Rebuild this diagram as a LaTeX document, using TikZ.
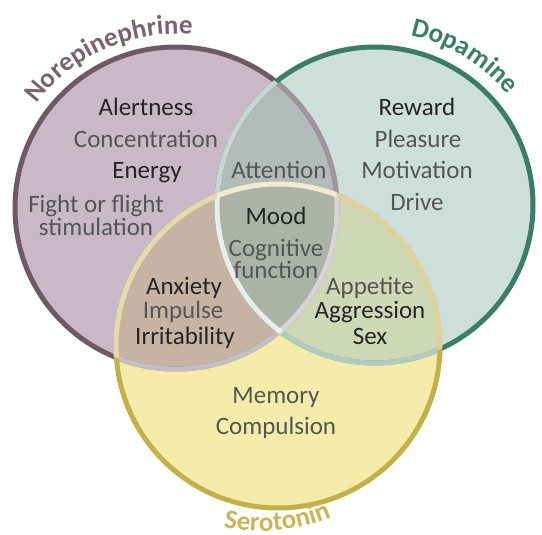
\documentclass[tikz,border=0pt]{standalone}
\usepackage{fontspec}
\setmainfont{Carlito}
\usetikzlibrary{decorations.text}
\definecolor{nefill}{HTML}{C9B8C6}
\definecolor{dafill}{HTML}{CCDFDB}
\definecolor{sefill}{HTML}{F4ECA8}
\definecolor{ndfill}{HTML}{B1BBBA}
\definecolor{nsfill}{HTML}{C7B3A4}
\definecolor{dsfill}{HTML}{CFD8B5}
\definecolor{ndsfill}{HTML}{AAB3A5}
\definecolor{nerim}{HTML}{6E5A67}
\definecolor{darim}{HTML}{3B7D65}
\definecolor{serim}{HTML}{C4B048}
\definecolor{netitle}{HTML}{7A6472}
\definecolor{datitle}{HTML}{3D7E68}
\definecolor{setitle}{HTML}{C9B559}
\definecolor{tdark}{HTML}{252525}
\definecolor{tgray}{HTML}{555555}
\newcommand{\ttlfont}{\fontsize{27}{29}\selectfont\bfseries}
\tikzset{lbl/.style={font=\fontsize{25}{27}\selectfont,text height=16pt,text depth=5pt,inner sep=0pt,text=tgray},key/.style={lbl,text=tdark},rim/.style={line width=5pt},glow/.style={rim,white,opacity=#1},arctext/.style 2 args={decorate,decoration={text along path,text align=center,text color=#1,text={|\ttlfont|#2}}}}

\begin{document}
\begin{tikzpicture}[x=1pt,y=1pt]
\useasboundingbox (0,0) rectangle (542,-535);
\coordinate (ne) at (176,-208);
\coordinate (da) at (375,-205);
\coordinate (se) at (278,-346);
\fill[nefill] (ne) circle[radius=161];
\fill[dafill] (da) circle[radius=158];
\fill[sefill] (se) circle[radius=162];
\begin{scope}
\clip (da) circle[radius=158];
\fill[dsfill] (se) circle[radius=162];
\end{scope}
\begin{scope}
\clip (ne) circle[radius=161];
\fill[nsfill] (se) circle[radius=162];
\fill[ndfill] (da) circle[radius=158];
\clip (da) circle[radius=158];
\fill[ndsfill] (se) circle[radius=162];
\end{scope}
\draw[rim,nerim] (ne) circle[radius=161];
\begin{scope}
\clip (da) circle[radius=158];
\draw[glow=.35] (ne) circle[radius=161];
\end{scope}
\draw[rim,darim] (da) circle[radius=158];
\begin{scope}
\clip (ne) circle[radius=161];
\draw[glow=.7] (da) circle[radius=158];
\end{scope}
\begin{scope}
\clip (se) circle[radius=162];
\draw[glow=.6] (ne) circle[radius=161];
\draw[glow=.6] (da) circle[radius=158];
\end{scope}
\draw[rim,serim] (se) circle[radius=162];
\begin{scope}
\clip (ne) circle[radius=161];
\draw[glow=.55] (se) circle[radius=162];
\end{scope}
\begin{scope}
\clip (da) circle[radius=158];
\draw[glow=.45] (se) circle[radius=162];
\end{scope}
\path[arctext={netitle}{Norepinephrine}] (ne) ++(155:174) arc[start angle=155,end angle=73,radius=174];
\path[arctext={datitle}{Dopamine}] (da) ++(99:173) arc[start angle=99,end angle=19,radius=173];
\path[arctext={setitle}{Serotonin}] (262,-346) ++(230:185) arc[start angle=230,end angle=320,radius=185];
\node[key] (alert) at (146,-110) {Alertness};
\node[lbl] (conc) at (146,-142) {Concentration};
\node[key] (energy) at (147,-173) {Energy};
\node[lbl] (fight) at (96,-207) {Fight or flight};
\node[lbl] (stim) at (96,-230) {stimulation};
\node[lbl] (attn) at (279,-173) {Attention};
\node[key] (reward) at (417,-110) {Reward};
\node[lbl] (pleas) at (418,-142) {Pleasure};
\node[lbl] (motiv) at (417,-173) {Motivation};
\node[lbl] (drive) at (417,-205) {Drive};
\node[key] (mood) at (276,-219) {Mood};
\node[lbl] (cogn) at (276,-251) {Cognitive};
\node[lbl] (func) at (276,-273) {function};
\node[key] (anx) at (184,-289) {Anxiety};
\node[lbl] (impl) at (183,-313) {Impulse};
\node[key] (irrit) at (185,-339) {Irritability};
\node[lbl] (appet) at (370,-289) {Appetite};
\node[key] (aggr) at (370,-313) {Aggression};
\node[key] (sex) at (370,-339) {Sex};
\node[lbl] (memory) at (276,-398) {Memory};
\node[lbl] (compul) at (276,-429) {Compulsion};
\end{tikzpicture}
\end{document}
